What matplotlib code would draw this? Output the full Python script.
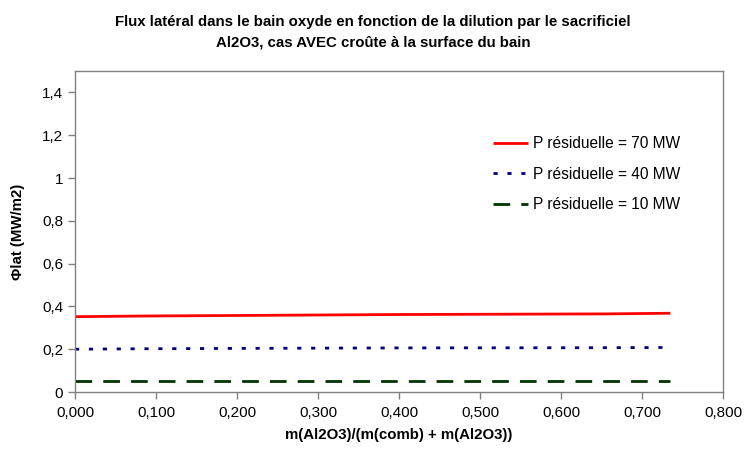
import matplotlib
matplotlib.use("Agg")
import matplotlib.pyplot as plt
from matplotlib.ticker import FixedLocator, FuncFormatter

plt.rcParams['font.family'] = ['Liberation Sans', 'DejaVu Sans']

x_vals = [0.000, 0.083, 0.220, 0.395, 0.655, 0.735]
p70 = [0.352, 0.355, 0.358, 0.362, 0.365, 0.368]
p40 = [0.200, 0.202, 0.204, 0.206, 0.207, 0.208]
p10 = [0.050, 0.050, 0.050, 0.050, 0.050, 0.050]
labels = ["P résiduelle = 70 MW", "P résiduelle = 40 MW", "P résiduelle = 10 MW"]
x_ticks = [0.0, 0.1, 0.2, 0.3, 0.4, 0.5, 0.6, 0.7, 0.8]
y_ticks = [0, 0.2, 0.4, 0.6, 0.8, 1.0, 1.2, 1.4]

fig = plt.figure(figsize=(7.46, 4.54), dpi=100)
ax = fig.add_axes([75/746, 1-392/454, (723-75)/746, (392-71)/454])

ax.plot(x_vals, p70, color='#ff0000', lw=2.0, solid_capstyle='butt', label=labels[0])
ax.plot(x_vals, p40, color='#000080', lw=2.0, linestyle=(0, (1.5, 3.5)), label=labels[1])
ax.plot(x_vals, p10, color='#003300', lw=2.0, linestyle=(0, (6, 4)), label=labels[2])

ax.set_xlim(0, 0.8)
ax.set_ylim(0, 1.5)
ax.xaxis.set_major_locator(FixedLocator(x_ticks))
ax.yaxis.set_major_locator(FixedLocator(y_ticks))
ax.xaxis.set_major_formatter(FuncFormatter(lambda v, p: f"{v:.3f}".replace('.', ',')))
def yfmt(v, p):
    if abs(v - round(v)) < 1e-9:
        return str(int(round(v)))
    return f"{v:.1f}".replace('.', ',')
ax.yaxis.set_major_formatter(FuncFormatter(yfmt))

for s in ['left', 'bottom', 'top', 'right']:
    ax.spines[s].set_color('#808080')
    ax.spines[s].set_linewidth(1.0)
ax.tick_params(axis='both', direction='out', length=5, color='#808080', labelsize=11, width=1)
ax.tick_params(axis='x', pad=5)

ax.set_xlabel("m(Al2O3)/(m(comb) + m(Al2O3))", fontsize=10.8, fontweight='bold', labelpad=6)
ax.set_ylabel("Φlat (MW/m2)", fontsize=10.8, fontweight='bold', labelpad=12)

fig.suptitle("Flux latéral dans le bain oxyde en fonction de la dilution par le sacrificiel\nAl2O3, cas AVEC croûte à la surface du bain",
             fontsize=10.8, fontweight='bold', y=0.968, linespacing=1.6)

leg = ax.legend(loc='upper left', bbox_to_anchor=(0.623, 0.84), frameon=False, fontsize=11.2,
                handlelength=2.3, handletextpad=0.3, labelspacing=1.0)

fig.savefig("out.png", dpi=100)
